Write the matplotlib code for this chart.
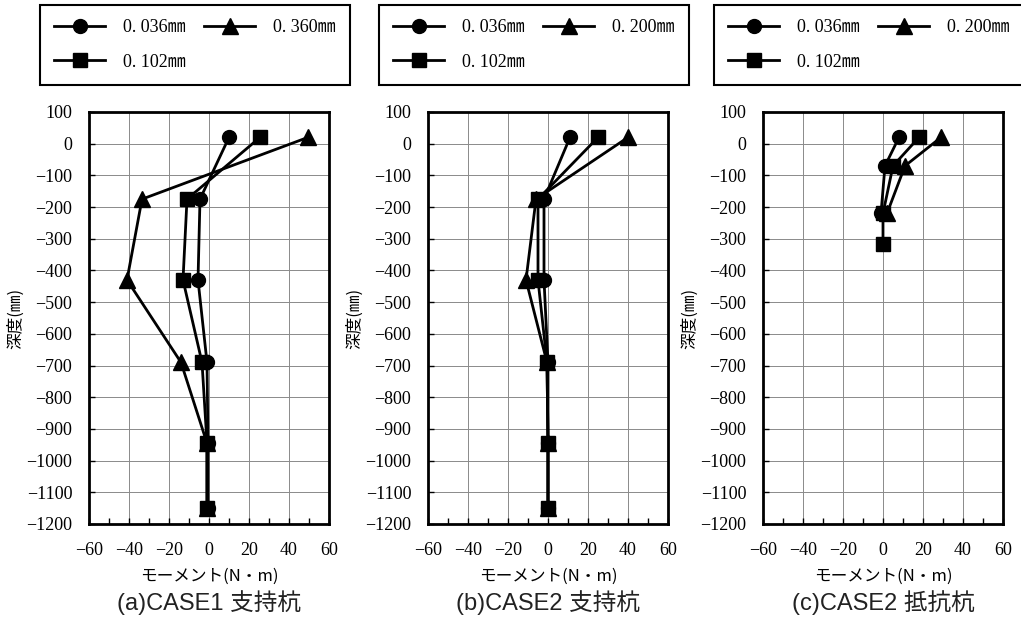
import matplotlib
matplotlib.use('Agg')
import matplotlib.pyplot as plt
from matplotlib.ticker import MultipleLocator

# depths (mm) at which the moment was measured
depth_ab = [20, -175, -430, -690, -945, -1150]
depth_c = [20, -70, -220, -315]

# (a) CASE1 supporting pile
a_036 = [10, -4.5, -5.5, -1, -0.5, -0.5]
a_102 = [25.5, -11, -13, -3.5, -1, -1]
a_360 = [49.5, -33.5, -41, -14, -1, -1]

# (b) CASE2 supporting pile
b_036 = [11, -2, -2, 0, 0, 0]
b_102 = [25, -5, -5, -0.5, 0, 0]
b_200 = [40, -6, -11, -0.5, 0, 0]

# (c) CASE2 resisting pile
c_036 = [8, 1, -1]
c_102 = [18, 5, 0, 0]
c_200 = [29, 11, 2]

panels = [
    ('(a)CASE1 支持杭', [('0. 036㎜', a_036, 'o', depth_ab), ('0. 102㎜', a_102, 's', depth_ab), ('0. 360㎜', a_360, '^', depth_ab)]),
    ('(b)CASE2 支持杭', [('0. 036㎜', b_036, 'o', depth_ab), ('0. 102㎜', b_102, 's', depth_ab), ('0. 200㎜', b_200, '^', depth_ab)]),
    ('(c)CASE2 抵抗杭', [('0. 036㎜', c_036, 'o', depth_c), ('0. 102㎜', c_102, 's', depth_c), ('0. 200㎜', c_200, '^', depth_c)]),
]

W, H = 1021, 627
fig = plt.figure(figsize=(W / 100, H / 100), dpi=100)

serif = ['Liberation Serif', 'Noto Sans CJK JP', 'DejaVu Serif']
jp = ['Noto Sans CJK JP', 'DejaVu Sans']
cap_font = ['Liberation Sans', 'Noto Sans CJK JP']

lefts = [89, 428, 763]
for left, (caption, series) in zip(lefts, panels):
    ax = fig.add_axes([left / W, (H - 524) / H, 240 / W, (524 - 112) / H])
    for label, xs, mk, ys in series:
        ax.plot(xs, ys[:len(xs)], color='black', lw=2, marker=mk,
                ms=11 if mk == '^' else 10, label=label)
    ax.set_xlim(-60, 60)
    ax.set_ylim(-1200, 100)
    ax.xaxis.set_major_locator(MultipleLocator(20))
    ax.xaxis.set_minor_locator(MultipleLocator(10))
    ax.yaxis.set_major_locator(MultipleLocator(100))
    ax.grid(True, which='major', color='#8a8a8a', lw=0.7)
    ax.tick_params(direction='in', which='both', length=4, width=1)
    ax.tick_params(axis='y', labelsize=13, pad=12)
    ax.tick_params(axis='x', labelsize=13, pad=13)
    for t in ax.get_xticklabels() + ax.get_yticklabels():
        t.set_fontfamily(serif)
    for s in ax.spines.values():
        s.set_linewidth(2)
    ax.set_xlabel('モーメント(N・m)', family=jp, fontsize=12, labelpad=6)
    ax.set_ylabel('深度(㎜)', family=jp, fontsize=12)
    ax.yaxis.set_label_coords(-65 / 240, 0.5)

    # legend box above each panel
    handles, labels = ax.get_legend_handles_labels()
    leg = ax.legend(handles, labels, ncol=2, loc='upper left',
                    bbox_to_anchor=((left - 49) / W, 1 - 88 / H, 310 / W, 83 / H),
                    bbox_transform=fig.transFigure, mode='expand',
                    fancybox=False, edgecolor='black', framealpha=1,
                    prop={'family': serif, 'size': 13},
                    handlelength=2.8, handletextpad=1.0, columnspacing=1.2,
                    labelspacing=0.95, borderpad=0.8, borderaxespad=0)
    leg.get_frame().set_linewidth(1.5)

    fig.text((left + 120) / W, 1 - 603 / H, caption, ha='center', va='center',
             family=cap_font, fontsize=17, color='#222222')

plt.savefig('out.png', dpi=100)
